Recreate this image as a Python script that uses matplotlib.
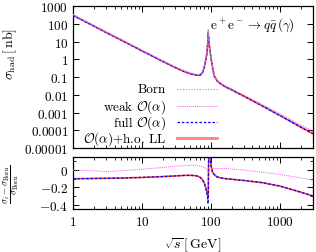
import numpy as np
import matplotlib
matplotlib.use('Agg')
import matplotlib.pyplot as plt
from matplotlib.ticker import NullLocator, MultipleLocator

plt.rcParams['mathtext.fontset'] = 'cm'
plt.rcParams['font.family'] = 'serif'
plt.rcParams['font.serif'] = ['cmr10', 'DejaVu Serif']
plt.rcParams['axes.linewidth'] = 0.9

# centre-of-mass energy grid [GeV]
sqrt_s = [1, 2, 3, 5, 10, 20, 30, 40, 50, 60, 65, 70, 75, 80, 84, 87, 89, 90, 90.7, 91.2,
          91.6, 92, 93, 94, 95, 97, 100, 105, 111, 123, 140, 165, 200, 250, 300, 550,
          1000, 2000, 3000]

# O(alpha)+h.o. LL cross section [nb] (the visible curve)
sigma_ll = [300, 75, 33, 12, 3.0, 0.76, 0.35, 0.21, 0.155, 0.13, 0.125, 0.13, 0.17, 0.35,
            0.9, 2.0, 5, 10, 20, 32, 30, 24, 14, 8, 5.5, 3.0, 1.2, 0.4, 0.12, 0.06, 0.04,
            0.027, 0.019, 0.012, 0.0084, 0.0024, 0.00068, 0.00015, 0.000065]

# relative corrections (sigma_i - sigma_Born)/sigma_Born
delta_weak = [0.0, -0.008, -0.018, -0.008, 0.01, 0.03, 0.045, 0.052, 0.056, 0.055, 0.05,
              0.045, 0.038, 0.03, 0.02, 0.01, 0.005, 0.0, -0.005, -0.005, 0.0, 0.0, 0.003,
              0.005, 0.007, 0.01, 0.012, 0.015, 0.018, 0.02, 0.02, 0.018, 0.012, 0.005, 0.0,
              -0.025, -0.05, -0.09, -0.115]
delta_full = [-0.10, -0.097, -0.095, -0.092, -0.085, -0.075, -0.068, -0.062, -0.06, -0.065,
              -0.072, -0.085, -0.11, -0.15, -0.21, -0.27, -0.31, -0.35, -0.39, -0.36, -0.25,
              -0.05, 0.25, 0.35, 0.3, 0.2, 0.06, -0.02, -0.05, -0.08, -0.09, -0.10, -0.105,
              -0.115, -0.12, -0.145, -0.185, -0.255, -0.3]
delta_ll = [-0.10, -0.097, -0.095, -0.092, -0.085, -0.075, -0.068, -0.062, -0.06, -0.065,
            -0.072, -0.085, -0.11, -0.15, -0.2, -0.25, -0.28, -0.3, -0.32, -0.31, -0.22,
            -0.05, 0.25, 0.35, 0.3, 0.2, 0.06, -0.02, -0.05, -0.08, -0.09, -0.10, -0.105,
            -0.115, -0.12, -0.145, -0.185, -0.255, -0.3]

x = np.array(sqrt_s)
s_ll = np.array(sigma_ll)
s_born = s_ll / (1 + np.array(delta_ll))
s_weak = s_born * (1 + np.array(delta_weak))
s_full = s_born * (1 + np.array(delta_full))

sty_born = dict(color='#a0a0a0', ls=(0, (1, 1.5)), lw=0.8)
sty_weak = dict(color='#ff50ff', ls=(0, (1, 1)), lw=0.7)
sty_full = dict(color='#0000ff', ls=(0, (2, 1.5)), lw=0.9)
sty_ll = dict(color='#ff0000', ls='-', lw=1.2, alpha=0.75)

fig = plt.figure(figsize=(3.16, 2.53), dpi=100)
ax1 = fig.add_axes([0.231, 0.411, 0.759, 0.561])
ax2 = fig.add_axes([0.231, 0.170, 0.759, 0.205])

ax1.plot(x, s_ll, zorder=2, **sty_ll)
ax1.plot(x, s_full, zorder=3, **sty_full)
ax1.plot(x, s_weak, zorder=4, **sty_weak)
ax1.plot(x, s_born, zorder=5, **sty_born)

ax2.plot(x, delta_ll, zorder=2, **sty_ll)
ax2.plot(x, delta_full, zorder=3, **sty_full)
ax2.plot(x, delta_weak, zorder=4, **sty_weak)

for ax in (ax1, ax2):
    ax.set_xscale('log')
    ax.set_xlim(1, 3000)
    ax.tick_params(which='both', direction='in', top=True, right=True, labelsize=9.5)
    ax.tick_params(which='major', length=4, width=0.7)
    ax.tick_params(which='minor', length=2.2, width=0.6)

ax1.set_yscale('log')
ax1.set_ylim(1e-5, 1e3)
yt = [1e-5, 1e-4, 1e-3, 1e-2, 1e-1, 1, 10, 100, 1000]
ax1.set_yticks(yt, labels=['$0.00001$', '$0.0001$', '$0.001$', '$0.01$', '$0.1$', '$1$',
                           '$10$', '$100$', '$1000$'])
ax1.yaxis.set_minor_locator(NullLocator())
ax1.set_xticks([1, 10, 100, 1000])
ax1.tick_params(labelbottom=False)
ax1.set_ylabel(r'$\sigma_{\rm had}\,[\,\mathrm{nb}]$', fontsize=10)
ax1.yaxis.set_label_coords(-0.225, 0.67)

ax1.text(0.925, 0.87, r'$\mathrm{e^+e^-}\rightarrow q\bar{q}\,(\gamma)$', transform=ax1.transAxes,
         ha='right', va='center', fontsize=9.5)

# gnuplot-style key: right-aligned labels, sample line to the right
labels = ['Born', r'weak $\mathcal{O}(\alpha)$', r'full $\mathcal{O}(\alpha)$',
          r'$\mathcal{O}(\alpha)$+h.o. LL']
key_styles = [sty_born, sty_weak, sty_full, dict(color='#ff8080', ls='-', lw=2)]
key_y = [0.415, 0.296, 0.183, 0.070]
for lab, sty, ky in zip(labels, key_styles, key_y):
    ax1.text(0.3875, ky, lab, transform=ax1.transAxes, ha='right', va='center', fontsize=9.5)
    ax1.plot([0.433, 0.60], [ky, ky], transform=ax1.transAxes, **sty)

ax2.set_ylim(-0.45, 0.15)
ax2.set_yticks([0, -0.2, -0.4], labels=['$0$', '$-0.2$', '$-0.4$'])
ax2.yaxis.set_minor_locator(MultipleLocator(0.1))
ax2.set_xticks([1, 10, 100, 1000], labels=['$1$', '$10$', '$100$', '$1000$'])
ax2.tick_params(axis='x', pad=4)
ax2.set_ylabel(r'$\dfrac{\sigma_i-\sigma_{\rm Born}}{\sigma_{\rm Born}}$', fontsize=6.5)
ax2.yaxis.set_label_coords(-0.215, 0.5)

fig.text(0.611, 0.032, r'$\sqrt{s}\,[\,\mathrm{GeV}]$', ha='center', va='center', fontsize=10)

fig.savefig('out.png', dpi=100)
